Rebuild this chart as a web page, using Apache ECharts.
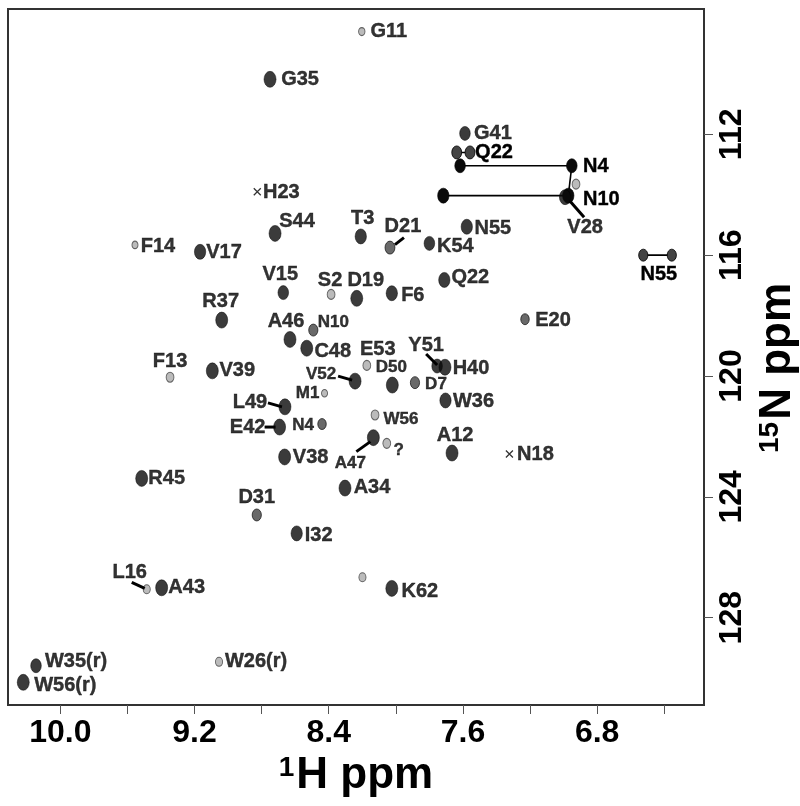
<!DOCTYPE html>
<html>
<head>
<meta charset="utf-8">
<script src="https://cdn.jsdelivr.net/npm/echarts@6/dist/echarts.min.js"></script>
<style>
  html, body { margin: 0; padding: 0; background: #fff; }
  #chart { width: 800px; height: 806px; }
</style>
</head>
<body>
<div id="chart"></div>
<script>
// backbone amide cross peaks: 1H / 15N shifts (ppm), relative contour intensity (0 = not observed)
const peakNames = ['G11', 'G35', 'H23', 'G41', 'V28', 'S44', 'T3', 'F14', 'V17', 'D21', 'K54', 'N55',
  'V15', 'S2', 'D19', 'F6', 'Q22', 'E20', 'R37', 'A46', 'N10', 'C48', 'E53', 'Y51', 'H40', 'V52',
  'D50', 'D7', 'F13', 'V39', 'M1', 'W36', 'L49', 'W56', 'N4', 'E42', 'A47', '?', 'A12', 'N18',
  'V38', 'R45', 'A34', 'D31', 'I32', '', 'K62', 'L16', 'A43', 'W26(r)', 'W35(r)', 'W56(r)', ''];
const peakH = [8.203, 8.750, 8.826, 7.588, 6.991, 8.720, 8.209, 9.555, 9.167, 8.035, 7.800, 7.577,
  8.671, 8.386, 8.233, 8.024, 7.711, 7.230, 9.038, 8.631, 8.492, 8.531, 8.173, 7.754, 7.707, 8.243,
  8.021, 7.886, 9.346, 9.094, 8.425, 7.704, 8.661, 8.124, 8.440, 8.693, 8.134, 8.054, 7.665, 7.323,
  8.663, 9.515, 8.303, 8.829, 8.591, 8.199, 8.024, 9.485, 9.396, 9.054, 10.145, 10.221, 6.926];
const peakN = [108.60, 110.18, 113.90, 111.97, 114.08, 115.28, 115.38, 115.66, 115.89, 115.75, 115.61, 115.06,
  117.24, 117.30, 117.43, 117.26, 116.82, 118.12, 118.15, 118.79, 118.48, 119.08, 119.65, 119.67, 119.71, 120.17,
  120.30, 120.22, 120.04, 119.83, 120.57, 120.81, 121.02, 121.29, 121.59, 121.69, 122.04, 122.23, 122.55, 122.58,
  122.68, 123.39, 123.71, 124.60, 125.21, 126.66, 127.03, 127.06, 127.01, 129.46, 129.59, 130.14, 113.65];
const peakInt = [0.2, 1, 0, 0.8, 0.9, 1, 0.9, 0.15, 0.9, 0.7, 0.8, 0.9,
  0.8, 0.4, 1, 0.9, 0.9, 0.5, 1, 1, 0.6, 1, 0.4, 0.8, 1, 1,
  1, 0.6, 0.4, 1, 0.15, 0.9, 1, 0.4, 0.5, 1, 1, 0.4, 1, 0,
  1, 1, 1, 0.6, 0.9, 0.3, 1, 0.3, 1, 0.3, 0.8, 1, 0.4];

// side-chain NH2 pairs: one 15N shift, two 1H shifts
const pairNames = ['Q22', 'N4', 'N10', 'N55'];
const pairN = [112.60, 113.04, 114.03, 116.00];
const pairH1 = [7.637, 7.617, 7.717, 6.525];
const pairH2 = [7.558, 6.951, 6.972, 6.355];
const pairInt = [0.7, 0.8, 0.9, 0.6];

// axes
const xTicks = [10.0, 9.6, 9.2, 8.8, 8.4, 8.0, 7.6, 7.2, 6.8, 6.4];
const xLabels = [10.0, 9.2, 8.4, 7.6, 6.8];
const yTicks = [112, 116, 120, 124, 128];

// label offsets from the peak centre in px: [dx, dy]
const place = {
  'G11': [27, 0], 'G35': [30, 0], 'H23': [24, 1], 'G41': [28, 0], 'V28': [20, 30],
  'S44': [22, -12], 'T3': [2, -18], 'F14': [23, 2], 'V17': [24, 1], 'D21': [13, -21],
  'K54': [26, 3], 'N55': [26, 2], 'V15': [-3, -18], 'S2': [-1, -14], 'D19': [9, -18],
  'F6': [21, 2], 'Q22': [26, -2], 'E20': [28, 1], 'R37': [-1, -19], 'A46': [-4, -18],
  'N10': [20, -8], 'C48': [26, 3], 'E53': [11, -16], 'Y51': [-11, -21], 'H40': [26, 1],
  'V52': [-34, -7], 'D50': [-1, -18], 'D7': [21, 2], 'F13': [0, -16], 'V39': [25, 0],
  'M1': [-17, 0], 'W36': [28, 1], 'L49': [-35, -4], 'W56': [26, 4], 'N4': [-19, 1],
  'E42': [-32, 0], 'A47': [-23, 26], '?': [12, 7], 'A12': [3, -18], 'N18': [26, 1],
  'V38': [26, 1], 'R45': [25, 0], 'A34': [27, -1], 'D31': [0, -17], 'I32': [22, 2],
  'K62': [28, 3], 'L16': [-17, -17], 'A43': [25, 0], 'W26(r)': [37, 0],
  'W35(r)': [40, -4], 'W56(r)': [42, 3]
};
// leader lines, px relative to the peak centre: [x1, y1, x2, y2]
const leaders = {
  'L49': [-17, -4, -3, 0], 'E42': [-15, 0, -4, 0], 'V52': [-17, -5, -3, -1],
  'Y51': [-11, -12, 0, -1], 'D21': [14, -10, 5, -3], 'V28': [5, 4, 19, 20],
  'A47': [-17, 14, -3, 4], 'L16': [-15, -7, -2, -1]
};
const pairPlace = { 'Q22': [24, 0], 'N4': [24, 1], 'N10': [33, 4], 'N55': [-13, 19] };
const smallLabels = ['N10', 'D50', 'V52', 'M1', 'N4', 'W56', 'A47', 'D7', '?'];

const FONT = '"Liberation Sans", Arial, Helvetica, sans-serif';
const CROSS = 'path://M0,0L10,10M10,0L0,10';

function spotStyle(v) {
  if (v >= 0.75) return { color: '#0a0a0a', borderColor: '#000', borderWidth: 0.6 };
  if (v >= 0.45) return { color: '#444', borderColor: '#000', borderWidth: 0.8 };
  return { color: '#aaa', borderColor: '#444', borderWidth: 1 };
}
function spotSize(v) {
  return [5 + 7 * v, 6 + 10 * v];
}

const labelText = {
  color: '#000', fontWeight: 'bold', fontFamily: FONT,
  textBorderColor: '#000', textBorderWidth: 0.4
};

const peakData = peakNames.map((name, i) => {
  const v = peakInt[i];
  return {
    name: name,
    value: [peakH[i], peakN[i]],
    symbol: v > 0 ? 'circle' : CROSS,
    symbolSize: v > 0 ? spotSize(v) : 7,
    itemStyle: v > 0 ? spotStyle(v) : { color: 'transparent', borderColor: '#000', borderWidth: 1.3 },
    label: {
      show: !!name,
      fontSize: smallLabels.includes(name) ? 17 : 20
    }
  };
});

const leaderNames = Object.keys(leaders);
const leaderData = leaderNames.map(n => {
  const i = peakNames.indexOf(n);
  return [peakH[i], peakN[i]];
});

const pairSeries = pairNames.map((name, i) => {
  const p = pairPlace[name];
  return {
    type: 'line',
    silent: true,
    z: 3,
    symbol: 'circle',
    symbolSize: spotSize(pairInt[i]),
    itemStyle: spotStyle(pairInt[i]),
    lineStyle: { color: '#000', width: 1.6 },
    data: [
      { value: [pairH1[i], pairN[i]] },
      {
        value: [pairH2[i], pairN[i]],
        label: Object.assign({
          show: true, position: 'inside', offset: [p[0], p[1]], formatter: name, fontSize: 20
        }, labelText)
      }
    ]
  };
});

// N4 / N10 upfield contours joined
pairSeries.push({
  type: 'line',
  silent: true,
  z: 2,
  symbol: 'none',
  lineStyle: { color: '#000', width: 1.6 },
  data: [[pairH2[1], pairN[1]], [pairH2[2], pairN[2]]]
});

const nameRich = {
  s: { fontSize: 28, fontWeight: 'bold', fontFamily: FONT, color: '#000', padding: [0, 2, 16, 0] },
  m: { fontSize: 44, fontWeight: 'bold', fontFamily: FONT, color: '#000' }
};

const chart = echarts.init(document.getElementById('chart'), null, { renderer: 'canvas' });

chart.setOption({
  animation: false,
  backgroundColor: '#fff',
  grid: {
    left: 8, top: 9, width: 696, height: 696,
    outerBoundsMode: 'none',
    containLabel: false,
    show: true, borderColor: '#333', borderWidth: 2, backgroundColor: 'transparent'
  },
  xAxis: {
    type: 'value',
    inverse: true,
    min: 6.163,
    max: 10.312,
    axisLine: { show: false },
    splitLine: { show: false },
    axisTick: {
      show: true, inside: false, length: 9, customValues: xTicks,
      lineStyle: { color: '#555', width: 1 }
    },
    axisLabel: {
      customValues: xLabels, margin: 12,
      formatter: v => v.toFixed(1),
      color: '#000', fontSize: 32, fontWeight: 'bold', fontFamily: FONT
    },
    name: '{s|1}{m|H ppm}',
    nameLocation: 'middle',
    nameGap: 44,
    nameTextStyle: { rich: nameRich }
  },
  yAxis: {
    type: 'value',
    position: 'right',
    inverse: true,
    min: 107.852,
    max: 130.89,
    axisLine: { show: false },
    splitLine: { show: false },
    axisTick: {
      show: true, inside: false, length: 9, customValues: yTicks,
      lineStyle: { color: '#555', width: 1 }
    },
    axisLabel: {
      customValues: yTicks, margin: 12, rotate: 90,
      color: '#000', fontSize: 32, fontWeight: 'bold', fontFamily: FONT
    },
    name: '{s|15}{m|N ppm}',
    nameLocation: 'middle',
    nameRotate: 90,
    nameGap: 27,
    nameTextStyle: { rich: nameRich, padding: [0, 22, 0, 0] }
  },
  series: [
    ...pairSeries,
    {
      type: 'custom',
      silent: true,
      z: 5,
      data: leaderData,
      renderItem: function (params, api) {
        const c = api.coord([api.value(0), api.value(1)]);
        const L = leaders[leaderNames[params.dataIndex]];
        return {
          type: 'line',
          shape: { x1: c[0] + L[0], y1: c[1] + L[1], x2: c[0] + L[2], y2: c[1] + L[3] },
          style: { stroke: '#000', lineWidth: 3 }
        };
      }
    },
    {
      type: 'scatter',
      silent: true,
      z: 4,
      data: peakData,
      label: Object.assign({ show: true, position: 'inside', formatter: '{b}' }, labelText),
      labelLayout: function (params) {
        const p = place[peakNames[params.dataIndex]];
        return p ? { dx: p[0], dy: p[1] } : {};
      }
    }
  ]
});
</script>
</body>
</html>
